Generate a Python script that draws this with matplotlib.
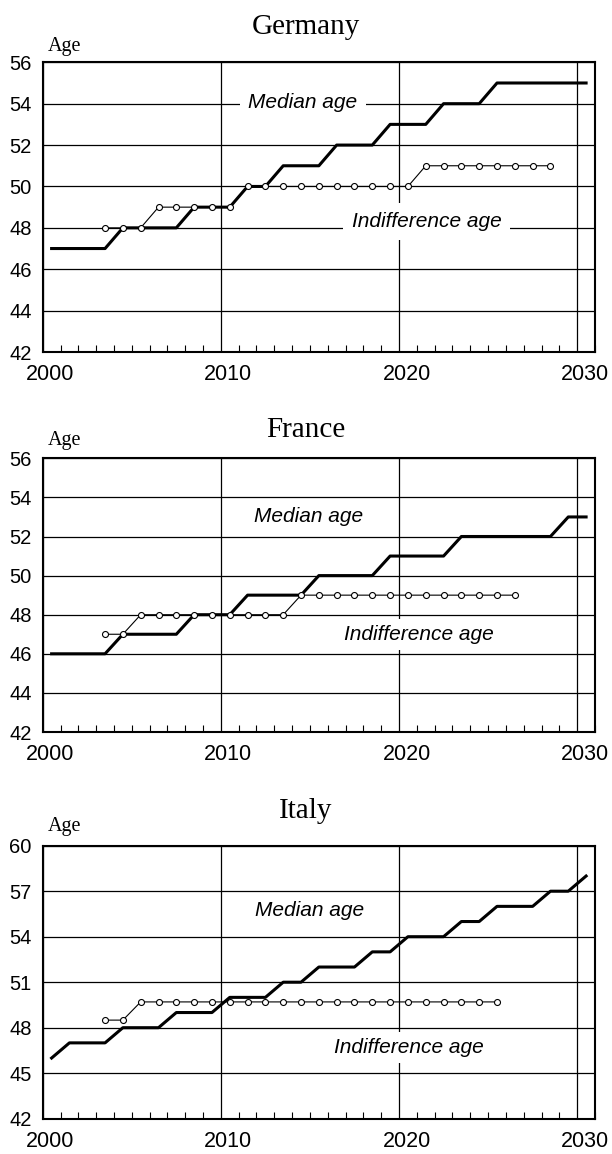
"""Median age vs indifference age, Germany / France / Italy, 2000-2030."""
import numpy as np
import matplotlib
matplotlib.use("Agg")
import matplotlib.pyplot as plt
from matplotlib.ticker import MultipleLocator
from matplotlib.transforms import ScaledTranslation

SANS = "Liberation Sans"
SERIF = "Liberation Serif"

years = np.arange(2000, 2031)

# --- Germany ---
de_median = [47, 47, 47, 47, 48, 48, 48, 48, 49, 49, 49, 50, 50, 51, 51, 51,
             52, 52, 52, 53, 53, 53, 54, 54, 54, 55, 55, 55, 55, 55, 55]
de_ind_years = np.arange(2003, 2029)
de_indiff = [48, 48, 48, 49, 49, 49, 49, 49, 50, 50, 50, 50, 50, 50, 50, 50, 50, 50,
             51, 51, 51, 51, 51, 51, 51, 51]

# --- France ---
fr_median = [46, 46, 46, 46, 47, 47, 47, 47, 48, 48, 48, 49, 49, 49, 49, 50,
             50, 50, 50, 51, 51, 51, 51, 52, 52, 52, 52, 52, 52, 53, 53]
fr_ind_years = np.arange(2003, 2027)
fr_indiff = [47, 47, 48, 48, 48, 48, 48, 48, 48, 48, 48, 49, 49, 49, 49, 49, 49,
             49, 49, 49, 49, 49, 49, 49]

# --- Italy ---
it_median = [46, 47, 47, 47, 48, 48, 48, 49, 49, 49, 50, 50, 50, 51, 51, 52,
             52, 52, 53, 53, 54, 54, 54, 55, 55, 56, 56, 56, 57, 57, 58]
it_ind_years = np.arange(2003, 2026)
it_indiff = [48.5, 48.5] + [49.7] * 21

panels = [
    # name, median, ind years, ind, ylim, ystep, axes (px top, bottom), title baseline, age baseline,
    # median label (x, y, boxed), indiff label (x, y, box pad)
    ("Germany", de_median, de_ind_years, de_indiff, (42, 56), 2, (62.3, 352), 33.5, 50.5,
     (2014.6, 54.05, True), (2021.55, 48.3, 0.42)),
    ("France", fr_median, fr_ind_years, fr_indiff, (42, 56), 2, (458.3, 732), 437, 445,
     (2014.95, 53.0, False), (2021.1, 47.0, 0.3)),
    ("Italy", it_median, it_ind_years, it_indiff, (42, 60), 3, (845.7, 1118.7), 818.5, 831.5,
     (2015.0, 55.7, False), (2020.55, 46.7, 0.28)),
]

W, H = 612, 1154
fig = plt.figure(figsize=(W / 100, H / 100), dpi=100)

for (name, med, iy, ind, ylim, ystep, (top, bot), t_base, a_base, mlab, ilab) in panels:
    ax = fig.add_axes([42.7 / W, 1 - bot / H, (595 - 42.7) / W, (bot - top) / H])
    ax.plot(years + 0.5, med, color="black", lw=2.2, zorder=3)
    ax.plot(iy + 0.5, ind, color="black", lw=0.8, marker="o", ms=4.3,
            mfc="white", mec="black", mew=0.8, zorder=4)
    ax.set_xlim(2000, 2031)
    ax.set_ylim(*ylim)
    ax.set_xticks([2000, 2010, 2020, 2030])
    ax.set_yticks(np.arange(ylim[0], ylim[1] + 1, ystep))
    ax.xaxis.set_minor_locator(MultipleLocator(1))
    ax.grid(True, color="black", lw=0.9)
    ax.set_axisbelow(True)
    ax.tick_params(which="major", length=0)
    ax.tick_params(axis="x", which="major", pad=9, labelsize=15.5)
    ax.tick_params(axis="y", which="major", pad=8, labelsize=14.5)
    ax.tick_params(axis="x", which="minor", direction="in", length=5, width=0.8)
    for s in ax.spines.values():
        s.set_linewidth(1.5)
    for lab in ax.get_xticklabels() + ax.get_yticklabels():
        lab.set_fontfamily(SANS)
    off = ScaledTranslation(0.075, 0, fig.dpi_scale_trans)
    for lab in ax.get_xticklabels():
        lab.set_transform(lab.get_transform() + off)

    mx, my, boxed = mlab
    ax.text(mx, my, "Median age", ha="center", va="center", fontsize=15, style="italic",
            family=SANS, zorder=5,
            bbox=dict(boxstyle="square,pad=0.4", fc="white", ec="none") if boxed else None)
    ix, iy_, pad = ilab
    ax.text(ix, iy_, "Indifference age", ha="center", va="center", fontsize=15, style="italic",
            family=SANS, zorder=5,
            bbox=dict(boxstyle=f"square,pad={pad}", fc="white", ec="none"))

    fig.text(0.5, 1 - t_base / H, name, ha="center", va="baseline", fontsize=21, family=SERIF)
    fig.text(48 / W, 1 - a_base / H, "Age", ha="left", va="baseline", fontsize=14.5, family=SERIF)

fig.savefig("out.png", dpi=100)
